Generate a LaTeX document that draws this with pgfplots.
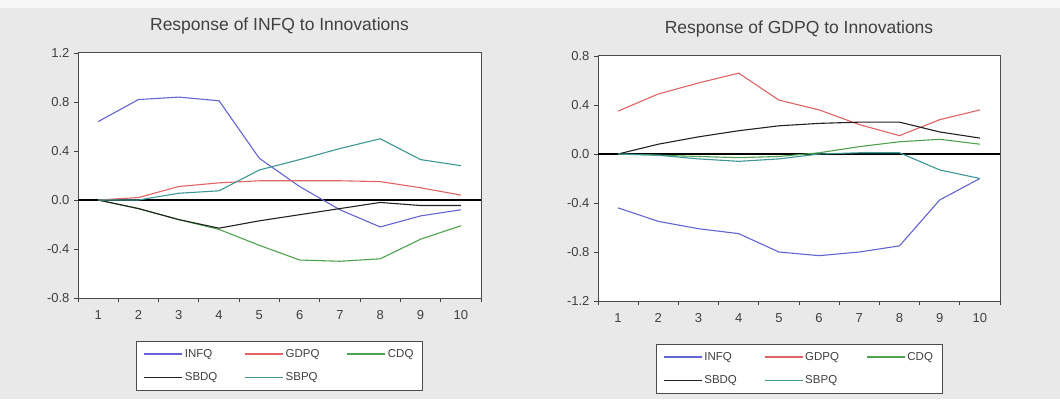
\documentclass[border=0pt]{standalone}
\usepackage{pgfplots}
\pgfplotsset{compat=1.18}
\usepackage{fontspec}
\setmainfont{Liberation Sans}
\definecolor{bg}{HTML}{E9E9E9}
\definecolor{cinf}{HTML}{6464D2}
\definecolor{cgdp}{HTML}{E06464}
\definecolor{ccd}{HTML}{4FA24F}
\definecolor{csbd}{HTML}{222222}
\definecolor{csbp}{HTML}{3E9696}
\definecolor{txt}{HTML}{404040}
\pgfplotsset{
  legend image code/.code={\draw[#1, line width=1.3pt] (0pt,0pt) -- (38pt,0pt);},
  eviews/.style={
    scale only axis,
    xmin=0.5, xmax=10.5,
    xtick={1,...,10},
    minor xtick={0.5,1.5,...,10.5},
    major x tick style={draw=none},
    minor x tick style={black!75, line width=0.9pt},
    minor tick length=4pt,
    major tick length=4pt,
    tick align=outside,
    xtick pos=bottom, ytick pos=left,
    y tick style={black!75, line width=0.9pt},
    axis line style={black!70, line width=1pt},
    axis background/.style={fill=white},
    /pgf/number format/assume math mode=true,
    yticklabel style={/pgf/number format/fixed, /pgf/number format/precision=1,
      /pgf/number format/fixed zerofill, font=\fontsize{13}{15}\selectfont, text=txt, xshift=-1pt},
    xticklabel style={font=\fontsize{13}{15}\selectfont, text=txt, yshift=-5pt},
    title style={font=\fontsize{17.5}{20}\selectfont, text=txt, at={(0.5,1)}, anchor=center, yshift=21pt},
    legend columns=3,
    legend cell align=left,
    legend style={at={(0.5,-0.175)}, anchor=north, draw=black!70, line width=0.9pt, fill=white,
      font=\fontsize{11.5}{13}\selectfont, text=txt, inner xsep=7pt, inner ysep=6pt,
      row sep=10pt,
      /tikz/every even column/.append style={column sep=25pt}},
    every axis plot/.append style={line width=1.1pt},
  }
}
\begin{document}
\begin{tikzpicture}
\fill[bg] (0pt,0pt) rectangle (1060pt,399pt);
\fill[white!60!bg] (0pt,391pt) rectangle (1060pt,399pt);
\useasboundingbox (0pt,0pt) rectangle (1060pt,399pt);
% left panel
\begin{axis}[eviews, at={(78pt,101pt)}, anchor=south west, width=403pt, height=245pt,
  ymin=-0.8, ymax=1.2, ytick={-0.8,-0.4,0,0.4,0.8,1.2},
  title={Response of INFQ to Innovations}]
\draw[black, line width=1.2pt] (axis cs:0.5,0) -- (axis cs:10.5,0);
\addplot[cinf] coordinates {(1,0.64) (2,0.82) (3,0.84) (4,0.81) (5,0.34) (6,0.11) (7,-0.08) (8,-0.22) (9,-0.13) (10,-0.08)};
\addplot[cgdp] coordinates {(1,0.00) (2,0.02) (3,0.11) (4,0.14) (5,0.157) (6,0.157) (7,0.157) (8,0.15) (9,0.10) (10,0.04)};
\addplot[ccd] coordinates {(1,0.00) (2,-0.07) (3,-0.16) (4,-0.24) (5,-0.37) (6,-0.49) (7,-0.50) (8,-0.48) (9,-0.32) (10,-0.21)};
\addplot[csbd] coordinates {(1,0.00) (2,-0.07) (3,-0.16) (4,-0.23) (5,-0.17) (6,-0.12) (7,-0.07) (8,-0.02) (9,-0.045) (10,-0.045)};
\addplot[csbp] coordinates {(1,0.00) (2,0.00) (3,0.055) (4,0.075) (5,0.245) (6,0.33) (7,0.42) (8,0.50) (9,0.33) (10,0.28)};
\legend{INFQ,GDPQ,CDQ,SBDQ,SBPQ}
\end{axis}
% right panel
\begin{axis}[eviews, at={(598pt,98pt)}, anchor=south west, width=402pt, height=245pt,
  ymin=-1.2, ymax=0.8, ytick={-1.2,-0.8,-0.4,0,0.4,0.8},
  title={Response of GDPQ to Innovations}]
\draw[black, line width=1.2pt] (axis cs:0.5,0) -- (axis cs:10.5,0);
\addplot[cinf] coordinates {(1,-0.44) (2,-0.55) (3,-0.61) (4,-0.65) (5,-0.80) (6,-0.83) (7,-0.80) (8,-0.75) (9,-0.375) (10,-0.20)};
\addplot[cgdp] coordinates {(1,0.35) (2,0.49) (3,0.58) (4,0.66) (5,0.44) (6,0.36) (7,0.24) (8,0.15) (9,0.28) (10,0.36)};
\addplot[ccd] coordinates {(1,0.00) (2,-0.01) (3,-0.02) (4,-0.03) (5,-0.02) (6,0.01) (7,0.06) (8,0.10) (9,0.12) (10,0.08)};
\addplot[csbd] coordinates {(1,0.00) (2,0.08) (3,0.14) (4,0.19) (5,0.23) (6,0.25) (7,0.26) (8,0.26) (9,0.18) (10,0.13)};
\addplot[csbp] coordinates {(1,0.00) (2,-0.01) (3,-0.04) (4,-0.06) (5,-0.04) (6,0.00) (7,0.01) (8,0.01) (9,-0.13) (10,-0.20)};
\legend{INFQ,GDPQ,CDQ,SBDQ,SBPQ}
\end{axis}
\end{tikzpicture}
\end{document}
